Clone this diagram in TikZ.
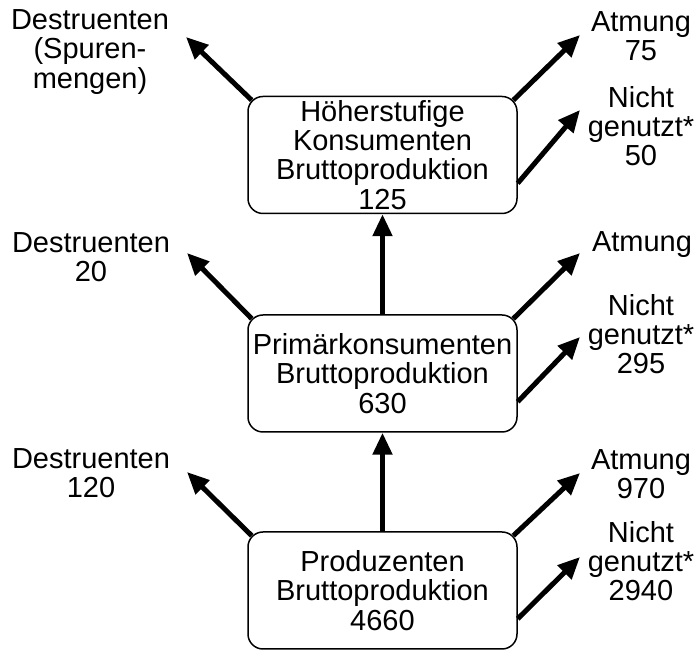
\documentclass[tikz,border=0pt]{standalone}
\usepackage{fontspec}
\setmainfont{Liberation Sans}
\usetikzlibrary{arrows, arrows.meta}

\begin{document}
\begin{tikzpicture}[x=0.5pt,y=-0.5pt,
  box/.style={draw,rounded corners=7.5pt,line width=0.75pt,minimum width=134.5pt,minimum height=58.5pt,align=center,inner sep=0pt,font=\fontsize{14.5}{14.6}\selectfont},
  lbl/.style={align=center,inner sep=0pt,font=\fontsize{14.5}{14.6}\selectfont},
  flow/.style={line width=2.5pt,-{Triangle[length=11pt,width=9.5pt]}}]
\useasboundingbox (0,0) rectangle (697,651);
% boxes
\node[box] (top) at (382.5,155) {H\"oherstufige\\Konsumenten\\Bruttoproduktion\\125};
\node[box] (mid) at (382.5,373.5) {Prim\"arkonsumenten\\Bruttoproduktion\\630};
\node[box] (bot) at (382.5,590.5) {Produzenten\\Bruttoproduktion\\4660};
% labels
\node[lbl] (dtop) at (90,52) {Destruenten\\(Spuren-\\mengen)};
\node[lbl] (atop) at (641,36) {Atmung\\75};
\node[lbl] (ntop) at (641,126) {Nicht\\genutzt*\\50};
\node[lbl] (dmid) at (91,257) {Destruenten\\20};
\node[lbl] (amid) at (642,245) {Atmung};
\node[lbl] (nmid) at (641,334) {Nicht\\genutzt*\\295};
\node[lbl] (dbot) at (91,473) {Destruenten\\120};
\node[lbl] (abot) at (641,474) {Atmung\\970};
\node[lbl] (nbot) at (641,561) {Nicht\\genutzt*\\2940};
% arrow tips
\coordinate (tdtop) at (186,37);
\coordinate (tatop) at (580,35);
\coordinate (tntop) at (580,110);
\coordinate (tdmid) at (187,253);
\coordinate (tamid) at (580,253);
\coordinate (tnmid) at (580,337);
\coordinate (tdbot) at (187,472);
\coordinate (tabot) at (580,473);
\coordinate (tnbot) at (580,557);
% flows
\foreach \b in {top,mid,bot}{
  \draw[flow] ([shift={(2.2pt,-2.2pt)}]\b.north west) -- (td\b);
  \draw[flow] ([shift={(-2.2pt,-2.2pt)}]\b.north east) -- (ta\b);
  \draw[flow] ([yshift=15.5pt]\b.south east) -- (tn\b);
}
\draw[flow] (bot.north) -- (mid.south);
\draw[flow] (mid.north) -- (top.south);
\end{tikzpicture}
\end{document}
